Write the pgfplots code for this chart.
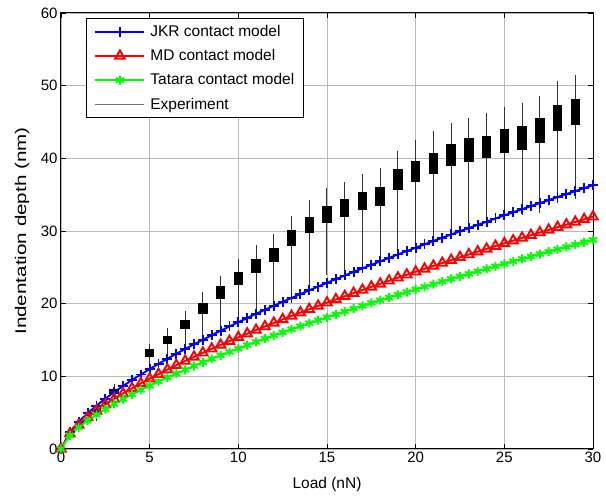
\documentclass[border=0pt]{standalone}
\usepackage{pgfplots}
\pgfplotsset{compat=1.18}
\usepackage{pgfplotstable}
\usepackage{graphicx}
\usepackage{fontspec}
\setmainfont{Liberation Sans}

% model curves, load in nN, depth in nm
\pgfplotstableread{
x    jkr    md     tat
0    0      0      0
0.5  2.37   2.09   1.88
1    3.76   3.31   2.98
1.5  4.93   4.34   3.90
2    5.97   5.25   4.73
2.5  6.93   6.10   5.49
3    7.82   6.88   6.20
3.5  8.67   7.63   6.87
4    9.48   8.34   7.51
4.5  10.25  9.02   8.12
5    10.99  9.68   8.71
5.5  11.72  10.31  9.29
6    12.42  10.93  9.84
6.5  13.10  11.53  10.38
7    13.76  12.11  10.90
7.5  14.40  12.68  11.42
8    15.04  13.24  11.92
8.5  15.66  13.79  12.41
9    16.27  14.32  12.89
9.5  16.87  14.85  13.37
10   17.45  15.37  13.83
10.5 18.03  15.87  14.29
11   18.60  16.37  14.74
11.5 19.15  16.86  15.18
12   19.71  17.35  15.62
12.5 20.25  17.83  16.05
13   20.79  18.30  16.48
13.5 21.32  18.77  16.90
14   21.84  19.23  17.31
14.5 22.36  19.68  17.72
15   22.87  20.13  18.12
15.5 23.38  20.58  18.53
16   23.88  21.02  18.92
16.5 24.37  21.45  19.31
17   24.86  21.88  19.70
17.5 25.34  22.31  20.09
18   25.82  22.73  20.47
18.5 26.30  23.15  20.84
19   26.77  23.57  21.22
19.5 27.24  23.98  21.59
20   27.70  24.39  21.96
20.5 28.16  24.79  22.32
21   28.62  25.20  22.68
21.5 29.07  25.59  23.04
22   29.52  25.99  23.40
22.5 29.97  26.38  23.75
23   30.41  26.77  24.10
23.5 30.85  27.16  24.45
24   31.28  27.54  24.79
24.5 31.72  27.92  25.14
25   32.15  28.30  25.48
25.5 32.57  28.68  25.82
26   33.00  29.05  26.15
26.5 33.42  29.42  26.49
27   33.84  29.79  26.82
27.5 34.25  30.16  27.15
28   34.67  30.52  27.48
28.5 35.08  30.88  27.80
29   35.49  31.24  28.13
29.5 35.90  31.60  28.45
30   36.30  31.96  28.77
}\models

% experiment: whisker low, box low, box high, whisker high
\pgfplotstableread{
x   lw    lq    uq    uw
2   3.9   5.0   5.5   6.1
3   6.0   7.6   8.2   8.9
5   11.2  12.6  13.7  14.5
6   12.6  14.4  15.6  16.7
7   13.9  16.5  17.8  19.0
8   15.1  18.6  20.1  21.6
9   16.4  20.7  22.4  23.8
10  17.6  22.6  24.4  26.1
11  18.9  24.2  26.2  28.1
12  20.1  25.8  27.7  29.6
13  21.3  27.9  30.1  32.1
14  22.6  29.7  31.9  34.2
15  24.0  31.1  33.5  35.9
16  24.7  31.9  34.4  36.8
17  25.4  32.9  35.3  37.9
18  26.1  33.5  36.0  38.6
19  27.5  35.6  38.5  41.0
20  28.2  36.8  39.7  42.5
21  28.9  37.9  40.8  43.7
22  30.2  39.0  42.0  44.9
23  30.8  39.5  42.8  45.6
24  31.3  40.0  43.1  46.2
25  31.8  40.7  44.0  47.1
26  32.2  41.2  44.5  47.6
27  32.5  42.1  45.6  48.6
28  33.8  43.8  47.3  50.6
29  34.4  44.6  48.1  51.5
}\expdata

\begin{document}
\begin{tikzpicture}
\begin{axis}[width=532pt,height=436pt,scale only axis,
 xmin=0,xmax=30,ymin=0,ymax=60,
 xtick={0,5,...,30},ytick={0,10,...,60},
 grid=major,major grid style={gray!55,line width=0.6pt},
 axis line style={line width=1pt},
 tick style={black,line width=0.8pt},major tick length=5pt,
 tick label style={font=\fontsize{15}{18}\selectfont},
 label style={font=\fontsize{15.5}{18}\selectfont},
 /pgf/number format/assume math mode=true,
 xlabel={Load (nN)},
 ylabel={\scalebox{1.33}[1]{Indentation depth (nm)}},
 xlabel style={at={(axis description cs:0.5,0)},anchor=center,yshift=-36pt},
 ylabel style={at={(axis description cs:0,0.5)},anchor=center,yshift=39pt},
 clip=false,
 legend style={at={(0.047,0.989)},anchor=north west,
  font=\fontsize{15.5}{18}\selectfont,draw=black,line width=1pt,
  cells={anchor=west},row sep=9.5pt,column sep=4pt,
  inner xsep=8pt,inner ysep=6pt,nodes={inner sep=1pt}},
 legend image code/.code={\draw[mark repeat=2,mark phase=2,#1]
  plot coordinates {(0pt,0pt) (24.5pt,0pt) (49pt,0pt)};},
 % page margins as in the reference
 after end axis/.code={
  \path (rel axis cs:0,0) ++(-61pt,-48.5pt);
  \path (rel axis cs:1,1) ++(13pt,13pt);}]
\addplot[blue,line width=1.9pt,mark=+,mark size=5pt] table[x=x,y=jkr] {\models};
\addlegendentry{JKR contact model}
\addplot[red,line width=1.9pt,mark=triangle,mark size=5.5pt] table[x=x,y=md] {\models};
\addlegendentry{MD contact model}
\addplot[green,line width=1.9pt,mark=asterisk,mark size=4.5pt] table[x=x,y=tat] {\models};
\addlegendentry{Tatara contact model}
% whiskers
\addplot[forget plot,draw=none,mark=none,
 error bars/.cd,y dir=plus,y explicit,error mark=none,
 error bar style={draw=black!80,line width=1pt}]
 table[x=x,y=lw,y error expr=\thisrow{uw}-\thisrow{lw}] {\expdata};
% boxes
\addplot[forget plot,draw=none,mark=none,
 error bars/.cd,y dir=plus,y explicit,error mark=none,
 error bar style={draw=black,line width=9.5pt}]
 table[x=x,y=lq,y error expr=\thisrow{uq}-\thisrow{lq}] {\expdata};
\addlegendimage{black!55,line width=1pt}
\addlegendentry{Experiment}
\end{axis}
\end{tikzpicture}
\end{document}
